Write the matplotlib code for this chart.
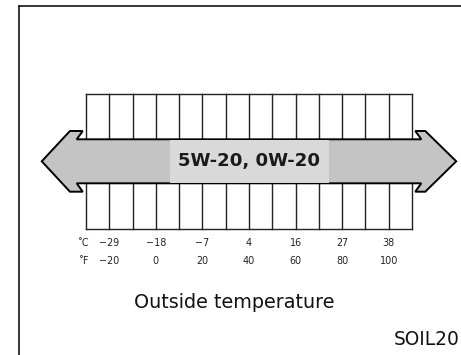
import matplotlib.pyplot as plt
import numpy as np
from matplotlib.patches import Polygon, Rectangle
from matplotlib.lines import Line2D

# Temperature scale (deg F on the x axis, deg C shown alongside)
fahrenheit = [-20, 0, 20, 40, 60, 80, 100]
celsius = [-29, -18, -7, 4, 16, 27, 38]
grid_step = 10            # one cell per 10 deg F
grade = "5W-20, 0W-20"
grade_range = [-49, 129]  # arrow runs across the whole chart
title = "Outside temperature"
code = "SOIL20"

fig = plt.figure(figsize=(4.61, 3.55), dpi=100)
ax = fig.add_axes([0, 0, 1, 1])
# x in deg F, y in pixel rows (top down)
ax.set_xlim(-66.93, 131.04)
ax.set_ylim(355, 0)
ax.axis('off')

# frame (left and top edge only visible)
fig.add_artist(Line2D([19/461, 19/461], [0, 1 - 6/355], transform=fig.transFigure, color='black', lw=1.1))
fig.add_artist(Line2D([19/461, 1], [1 - 6/355, 1 - 6/355], transform=fig.transFigure, color='black', lw=1.1))

edges = np.arange(fahrenheit[0] - grid_step, fahrenheit[-1] + grid_step + 1, grid_step)
top_y, shaft_top, shaft_bot, bot_y = 94, 139.3, 183.3, 229
mid = (shaft_top + shaft_bot) / 2
barb_top, barb_bot = 131, 191.7

# grid cells above and below the arrow
for e in edges:
    ax.plot([e, e], [top_y, shaft_top], color='#222222', lw=1.0)
    ax.plot([e, e], [shaft_bot, bot_y], color='#222222', lw=1.0)
ax.plot([edges[0], edges[-1]], [top_y, top_y], color='#222222', lw=1.0)
ax.plot([edges[0], edges[-1]], [bot_y, bot_y], color='#222222', lw=1.0)

# double headed arrow
lo, hi = grade_range
head = 15.0
pts = [
    (lo, mid), (lo + 12.1, barb_top), (lo + 17.6, barb_top), (lo + head, shaft_top),
    (hi - head, shaft_top), (hi - 17.6, barb_top), (hi - 13.3, barb_top), (hi, mid),
    (hi - 13.3, barb_bot), (hi - 17.6, barb_bot), (hi - head, shaft_bot),
    (lo + head, shaft_bot), (lo + 17.6, barb_bot), (lo + 12.1, barb_bot),
]
ax.add_patch(Polygon(pts, closed=True, facecolor='#c4c4c4', edgecolor='black', lw=1.4, joinstyle='miter', zorder=3))
ax.add_patch(Rectangle((6.1, shaft_top + 0.8), 68.3, shaft_bot - shaft_top - 1.6,
                       facecolor='#d9d9d9', edgecolor='none', zorder=4))
ax.text(40, mid, grade, ha='center', va='center', fontsize=13.1, fontweight='bold',
        color='#1a1a1a', zorder=5)

# scale labels
for f, c in zip(fahrenheit, celsius):
    ax.text(f, 242.5, str(c).replace('-', '\u2212'), ha='center', va='center', fontsize=6.9, color='#222222')
    ax.text(f, 260.5, str(f).replace('-', '\u2212'), ha='center', va='center', fontsize=6.9, color='#222222')
ax.text(fahrenheit[0] - 8.6, 242.5, '\u02daC', ha='right', va='center', fontsize=6.9, color='#222222')
ax.text(fahrenheit[0] - 8.6, 260.5, '\u02daF', ha='right', va='center', fontsize=6.9, color='#222222')

ax.text(33.8, 303, title, ha='center', va='center', fontsize=13.8, color='#111111')
# reference crops this code at the right edge; keep it whole, hugging the edge
ax.text(130.6, 339.5, code, ha='right', va='center', fontsize=13.4, color='#111111')

fig.savefig('out.png', dpi=100)
